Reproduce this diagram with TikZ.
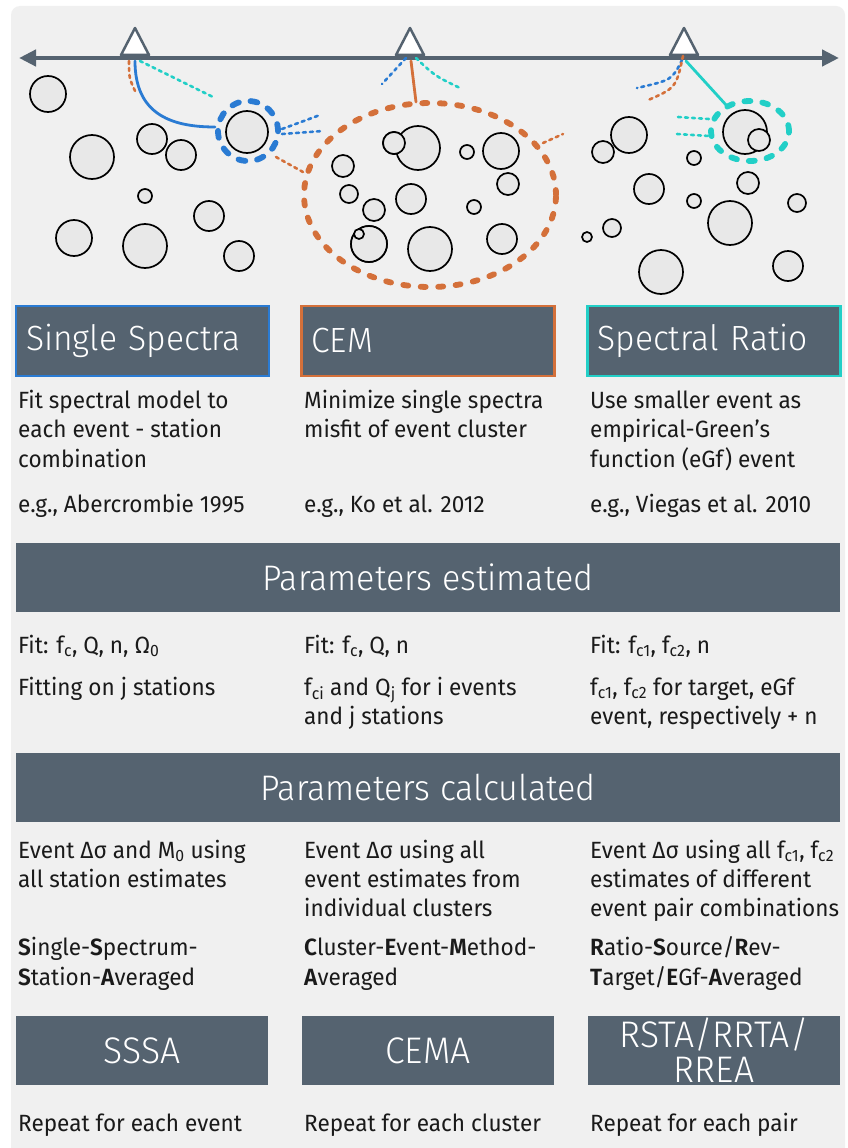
\documentclass[tikz,border=0pt]{standalone}
\usepackage{fontspec}
\setmainfont{Fira Sans}[BoldFont=* SemiBold, FakeStretch=0.96]
\newfontfamily\lightfont{Fira Sans}[UprightFont=* Light, FakeStretch=0.96]
\usetikzlibrary{arrows.meta}
\definecolor{slate}{HTML}{556370}
\definecolor{panelc}{HTML}{F0F0F0}
\definecolor{evc}{HTML}{E8E8E8}
\definecolor{blueC}{HTML}{2A7BD3}
\definecolor{oranC}{HTML}{D4703A}
\definecolor{cyanC}{HTML}{22CFC7}
\definecolor{txt}{HTML}{1A1A1A}
\newcommand{\sbs}[1]{\textsubscript{#1}}
\tikzset{
 ev/.style={draw=black, line width=1.7pt, fill=evc},
 dots/.style={line width=2.6pt, dash pattern=on 3pt off 4pt, line cap=round},
 ringline/.style={line width=5.8pt, line cap=round},
 solidlink/.style={line width=2.8pt, line cap=round},
 station/.style={draw=slate, fill=white, line width=2.5pt, line join=round},
 hdrbox/.style={fill=slate, line width=2.5pt, minimum height=70pt, text width=233pt, align=left, inner xsep=10pt, inner ysep=0pt, text=white, font=\lightfont\fontsize{35}{38}\selectfont},
 botbox/.style={fill=slate, minimum width=252pt, minimum height=69pt, text width=240pt, align=center, inner sep=0pt, text=white, font=\lightfont\fontsize{37}{35}\selectfont},
 bar/.style={fill=slate, minimum width=824pt, minimum height=69pt, inner sep=0pt, text=white, font=\lightfont\fontsize{35.5}{36}\selectfont},
 body/.style={anchor=base west, inner sep=0pt, text=txt, font=\fontsize{23.5}{28}\selectfont},
}
\begin{document}
\begin{tikzpicture}[x=1pt,y=-1pt]
\useasboundingbox (0,0) rectangle (848,1148);
\fill[white] (0,0) rectangle (848,1148);
\fill[panelc, rounded corners=9pt] (11,6) rectangle (845,1160);
\fill[panelc] (11,1120) rectangle (845,1148);

% ---- events ----
\foreach \x/\y/\r in {48/94/18, 92/157/22, 152/139/15, 181/155/15, 145/196/7, 74/238/18, 145/246/22, 209/216/15, 239/256/15, 247/132/21,
 394/143/11, 418/148/22, 467/152/7, 501/151/18, 343/166/11, 508/184/11, 349/194/9, 411/199/15, 374/210/11, 474/207/7, 369/244/18, 430/249/22, 502/239/15,
 629/135/18, 603/152/11, 694/158/7, 745/132/22, 649/189/15, 748/183/11, 694/201/7, 797/203/9, 730/223/22, 612/228/9, 587/237/5, 661/272/22, 788/266/15}
  \draw[ev] (\x,\y) circle (\r pt);
\draw[ev] (394,143) circle (11pt);
\draw[ev] (369,244) circle (18pt);
\draw[ev] (359,234) circle (5pt);
\draw[ev] (759,140) circle (11pt);

% ---- axis and stations ----
\coordinate (axL) at (19,58);
\coordinate (axR) at (839,58);
\draw[slate, line width=4.5pt, {Triangle[length=17pt,width=16pt]}-{Triangle[length=17pt,width=16pt]}] (axL) -- (axR);
\draw[station] (121,55) -- (135,28) -- (149,55) -- cycle;
\draw[station] (396,55) -- (410,28) -- (424,55) -- cycle;
\draw[station] (670,55) -- (684,28) -- (698,55) -- cycle;
\coordinate (s1) at (135,61);
\coordinate (s2) at (411,61);
\coordinate (s3) at (686,61);

% ---- rings ----
\draw[blueC, ringline, dash pattern=on 7pt off 11.8pt] (248,131) circle (30pt);
\draw[oranC, ringline, dash pattern=on 5pt off 12.5pt] (430,195) ellipse (126pt and 92pt);
\draw[cyanC, ringline, dash pattern=on 6pt off 12pt] (750,131) ellipse (39pt and 30pt);

% ---- links from station 1 ----
\coordinate (b1end) at (215,127);
\draw[blueC, solidlink] (s1) .. controls (135,112) and (168,127) .. (b1end);
\draw[oranC, dots] ([xshift=-6pt]s1) .. controls (129,78) .. (136,93);
\draw[cyanC, dots] ([xshift=5pt]s1) -- (213,97);
\draw[blueC, dots] (282,129) -- (320,115);
\draw[blueC, dots] (282,134) -- (323,131);
\draw[oranC, dots] (276,157) -- (303,172);

% ---- links from station 2 ----
\coordinate (c2end) at (416,102);
\draw[oranC, solidlink] (s2) -- (c2end);
\draw[blueC, dots] ([xshift=-5pt,yshift=3pt]s2) -- (382,84);
\draw[cyanC, dots] ([xshift=5pt,yshift=3pt]s2) .. controls (435,76) .. (460,88);
\draw[oranC, dots] (543,143) -- (563,134);

% ---- links from station 3 ----
\coordinate (r3end) at (727,106);
\draw[cyanC, solidlink] (s3) -- (r3end);
\draw[blueC, dots] ([xshift=-4pt,yshift=1pt]s3) .. controls (672,80) .. (637,88);
\draw[oranC, dots] ([xshift=-3pt,yshift=5pt]s3) .. controls (676,88) .. (646,101);
\draw[cyanC, dots] (678,117) -- (709,119);
\draw[cyanC, dots] (677,134) -- (709,136);

% ---- method headers ----
\node[hdrbox, draw=blueC] (m1) at (142.5,341) {Single Spectra};
\node[hdrbox, draw=oranC] (m2) at (428,341) {CEM};
\node[hdrbox, draw=cyanC] (m3) at (714,341) {Spectral Ratio};

% ---- descriptions ----
\node[body] (d11) at (18,408) {Fit spectral model to};
\node[body] (d12) at (18,437.5) {each event - station};
\node[body] (d13) at (18,467) {combination};
\node[body] (d14) at (18,512) {e.g., Abercrombie 1995};
\node[body] (d21) at (304,408) {Minimize single spectra};
\node[body] (d22) at (304,437.5) {misfit of event cluster};
\node[body] (d24) at (304,512) {e.g., Ko et al. 2012};
\node[body] (d31) at (590,408) {Use smaller event as};
\node[body] (d32) at (590,437.5) {empirical-Green's};
\node[body] (d33) at (590,467) {function (eGf) event};
\node[body] (d34) at (590,512) {e.g., Viegas et al. 2010};

% ---- parameters estimated ----
\node[bar] (pe) at (428,577.5) {Parameters estimated};
\node[body] (e11) at (18,653) {Fit: f\sbs{c}, Q, n, Ω\sbs{0}};
\node[body] (e12) at (18,695) {Fitting on j stations};
\node[body] (e21) at (304,653) {Fit: f\sbs{c}, Q, n};
\node[body] (e22) at (304,695) {f\sbs{ci} and Q\sbs{j} for i events};
\node[body] (e23) at (304,724) {and j stations};
\node[body] (e31) at (590,653) {Fit: f\sbs{c1}, f\sbs{c2}, n};
\node[body] (e32) at (590,695) {f\sbs{c1}, f\sbs{c2} for target, eGf};
\node[body] (e33) at (590,724) {event, respectively + n};

% ---- parameters calculated ----
\node[bar] (pc) at (428,787.5) {Parameters calculated};
\node[body] (k11) at (18,858) {Event Δσ and M\sbs{0} using};
\node[body] (k12) at (18,887) {all station estimates};
\node[body] (k14) at (18,955) {\textbf{S}ingle-\textbf{S}pectrum-};
\node[body] (k15) at (18,985) {\textbf{S}tation-\textbf{A}veraged};
\node[body] (k21) at (304,858) {Event Δσ using all};
\node[body] (k22) at (304,887) {event estimates from};
\node[body] (k23) at (304,916) {individual clusters};
\node[body] (k24) at (304,955) {\textbf{C}luster-\textbf{E}vent-\textbf{M}ethod-};
\node[body] (k25) at (304,985) {\textbf{A}veraged};
\node[body] (k31) at (590,858) {Event Δσ using all f\sbs{c1}, f\sbs{c2}};
\node[body] (k32) at (590,887) {estimates of different};
\node[body] (k33) at (590,916) {event pair combinations};
\node[body] (k34) at (590,955) {\textbf{R}atio-\textbf{S}ource/\textbf{R}ev-};
\node[body] (k35) at (590,985) {\textbf{T}arget/\textbf{E}Gf-\textbf{A}veraged};

% ---- acronyms ----
\node[botbox] (a1) at (142,1050.5) {SSSA};
\node[botbox] (a2) at (428,1050.5) {CEMA};
\node[botbox] (a3) at (714,1050.5) {RSTA/RRTA/\\RREA};
\node[body] (r1) at (18,1131) {Repeat for each event};
\node[body] (r2) at (304,1131) {Repeat for each cluster};
\node[body] (r3) at (590,1131) {Repeat for each pair};
\end{tikzpicture}
\end{document}
